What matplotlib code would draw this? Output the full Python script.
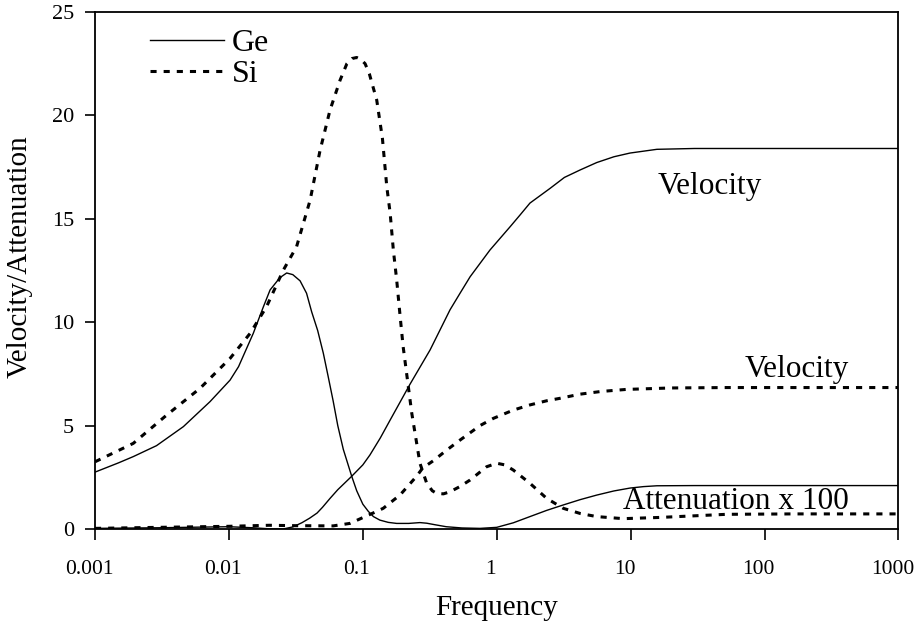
import matplotlib
matplotlib.use("Agg")
import matplotlib.pyplot as plt
import matplotlib.transforms as mtransforms

plt.rcParams['font.family'] = ['Liberation Serif', 'DejaVu Serif']

# Ge attenuation (low f) continuing as attenuation x 100 (high f)
ge_att_f = [0.001, 0.0015, 0.00193, 0.00288, 0.00457, 0.00723, 0.0102, 0.0118, 0.0152,
            0.0181, 0.0203, 0.024, 0.027, 0.03, 0.034, 0.038, 0.0415, 0.046, 0.0507,
            0.055, 0.06, 0.065, 0.0715, 0.0826, 0.09, 0.1, 0.11, 0.12, 0.134, 0.155,
            0.179, 0.22, 0.267, 0.3, 0.35, 0.42, 0.55, 0.75, 1.0, 1.33, 1.77, 2.36,
            3.13, 4.2, 5.58, 7.5, 9.9, 12.5, 15.7, 30, 100, 1000]
ge_att_y = [2.75, 3.2, 3.5, 4.03, 4.95, 6.16, 7.2, 7.85, 9.46,
            10.75, 11.56, 12.15, 12.38, 12.3, 12.0, 11.4, 10.5, 9.6, 8.5,
            7.4, 6.2, 5.0, 3.85, 2.55, 1.85, 1.2, 0.85, 0.6, 0.43, 0.32,
            0.27, 0.27, 0.31, 0.28, 0.2, 0.11, 0.05, 0.03, 0.08, 0.3, 0.6, 0.9,
            1.16, 1.42, 1.64, 1.84, 1.98, 2.05, 2.09, 2.1, 2.1, 2.1]

# Si attenuation
si_att_f = [0.001, 0.00193, 0.00343, 0.00608, 0.0102, 0.0144, 0.0191, 0.0255, 0.032,
            0.0404, 0.0479, 0.0569, 0.0676, 0.076, 0.083, 0.09, 0.097, 0.104, 0.112,
            0.127, 0.14, 0.151, 0.16, 0.169, 0.179, 0.19, 0.2, 0.232, 0.267, 0.3, 0.33,
            0.356, 0.4, 0.448, 0.53, 0.633, 0.84, 1.0, 1.15, 1.33, 1.77, 2.36, 3.14,
            4.2, 5.58, 8.8, 16.6, 52, 164, 1000]
si_att_y = [3.25, 4.14, 5.51, 6.8, 8.25, 9.46, 10.75, 12.52, 13.65,
            15.9, 18.3, 20.26, 21.7, 22.5, 22.75, 22.8, 22.7, 22.5, 22.0,
            20.74, 18.9, 16.55, 15.27, 13.49, 12.04, 10.27, 8.82, 5.6, 3.18, 2.21, 1.85,
            1.72, 1.7, 1.8, 2.05, 2.37, 3.01, 3.18, 3.1, 2.85, 2.21, 1.48, 1.0,
            0.75, 0.6, 0.5, 0.56, 0.71, 0.73, 0.73]

# Ge velocity
ge_vel_f = [0.001, 0.003, 0.006, 0.01, 0.015, 0.02, 0.0254, 0.03, 0.035, 0.04, 0.0455,
            0.05, 0.0569, 0.065, 0.0826, 0.1, 0.113, 0.135, 0.16, 0.225, 0.318, 0.448,
            0.532, 0.633, 0.89, 1.26, 1.5, 1.77, 2.5, 3.2, 4.19, 5.58, 7.5, 9.9, 15.7,
            30, 100, 1000]
ge_vel_y = [0.03, 0.06, 0.09, 0.11, 0.06, 0.01, 0.0, 0.1, 0.3, 0.52, 0.77,
            1.05, 1.48, 1.9, 2.55, 3.1, 3.58, 4.4, 5.27, 7.0, 8.66, 10.6,
            11.4, 12.2, 13.49, 14.62, 15.2, 15.76, 16.47, 17.0, 17.36, 17.72, 18.0, 18.18, 18.36,
            18.4, 18.4, 18.4]

# Si velocity
si_vel_f = [0.001, 0.003, 0.01, 0.02, 0.0316, 0.06, 0.08, 0.1, 0.12, 0.142, 0.19, 0.252,
            0.28, 0.336, 0.42, 0.532, 0.75, 0.944, 1.33, 1.77, 2.36, 2.97, 4.19, 6.0, 9.3,
            20, 52, 1000]
si_vel_y = [0.03, 0.08, 0.13, 0.18, 0.16, 0.15, 0.27, 0.55, 0.78, 1.0, 1.65, 2.55,
            2.95, 3.3, 3.8, 4.3, 5.0, 5.35, 5.75, 6.0, 6.2, 6.32, 6.52, 6.65, 6.75,
            6.82, 6.84, 6.84]

xticks = [0.001, 0.01, 0.1, 1, 10, 100, 1000]
xtick_labels = ['0.001', '0.01', '0.1', '1', '10', '100', '1000']
yticks = [0, 5, 10, 15, 20, 25]

dot_style = (0, (2.0, 2.3))

fig = plt.figure(figsize=(9.17, 6.25), dpi=100)
ax = fig.add_axes([0.1036, 0.1536, 0.8762, 0.8272])

ge_line, = ax.plot(ge_att_f, ge_att_y, color='black', lw=1.0, label='Ge')
ax.plot(ge_vel_f, ge_vel_y, color='black', lw=1.0)
si_line, = ax.plot(si_att_f, si_att_y, color='black', lw=2.2, linestyle=dot_style, label='Si')
ax.plot(si_vel_f, si_vel_y, color='black', lw=2.2, linestyle=dot_style)

ax.set_xscale('log')
ax.set_xlim(0.001, 1000)
ax.set_ylim(0, 25)
ax.set_xticks(xticks)
ax.set_xticklabels(xtick_labels)
ax.minorticks_off()
ax.set_yticks(yticks)

ax.tick_params(axis='x', direction='out', length=8, width=1.2, pad=14, labelsize=15.5)
ax.tick_params(axis='y', direction='out', length=7, width=1.2, pad=8, labelsize=16)
for s in ax.spines.values():
    s.set_linewidth(1.3)

# x tick labels sit a little left of their ticks in the original
shift = mtransforms.ScaledTranslation(-6 / 100, 0, fig.dpi_scale_trans)
for lab in ax.get_xticklabels():
    lab.set_transform(lab.get_transform() + shift)

ax.set_xlabel('Frequency', fontsize=21, labelpad=12)
ax.set_ylabel('Velocity/Attenuation', fontsize=21)
ax.yaxis.set_label_coords(-0.0772, 0.527)

ax.text(16.0, 16.2, 'Velocity', fontsize=22.5, ha='left', va='baseline')
ax.text(71.5, 7.33, 'Velocity', fontsize=22.5, ha='left', va='baseline')
ax.text(8.84, 0.95, 'Attenuation x 100', fontsize=22.5, ha='left', va='baseline')

ax.legend(handles=[ge_line, si_line], loc='upper left', bbox_to_anchor=(0.0685, 0.967),
          frameon=False, fontsize=23, handlelength=2.3, handletextpad=0.25,
          labelspacing=0.05, borderpad=0, borderaxespad=0)

fig.savefig('out.png', dpi=100)
